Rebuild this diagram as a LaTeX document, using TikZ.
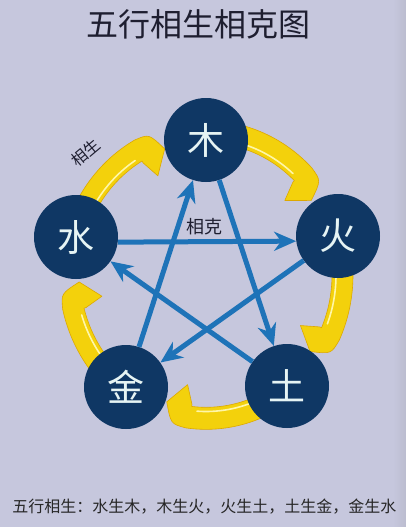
\documentclass[tikz,border=0pt]{standalone}
\usepackage{fontspec}
\newfontfamily\cjk{Noto Sans CJK SC}
\usetikzlibrary{arrows.meta}
\definecolor{bg}{HTML}{C6C7DD}
\definecolor{navy}{HTML}{0F3764}
\definecolor{kblue}{HTML}{1E73B8}
\definecolor{yfillc}{HTML}{F3D10C}
\definecolor{yedge}{HTML}{DDA800}
\definecolor{yhigh}{HTML}{FFF6A8}
\definecolor{titlec}{HTML}{1E1E30}
\definecolor{elemtext}{HTML}{E6F4F4}
\tikzset{
  elem/.style={circle, fill=navy, minimum size=84pt, inner sep=0pt, text=elemtext,
               font=\cjk\fontsize{37}{37}\selectfont},
  ke/.style={draw=kblue, line width=5pt, -{Stealth[length=22pt,width=19pt,inset=7pt]}},
  yfill/.style={fill=yfillc, draw=yedge, line width=0.6pt, line join=round},
  yhl/.style={draw=yhigh, line width=1.6pt, line cap=round}
}
\newcommand\yarr[2]{%
  \pgfmathsetmacro\ea{#2+10}\pgfmathsetmacro\ca{#2+4}%
  \pgfmathsetmacro\ba{#2+8}\pgfmathsetmacro\na{#2+11.5}\pgfmathsetmacro\ha{#2+14}%
  \path[yfill] plot[domain=#1:\ea,samples=40] (\x:147) .. controls (\ca:146) .. (#2:127)
     -- (\ba:106) -- (\na:124) -- plot[domain=\na:#1,samples=40] (\x:126) -- cycle;
  \draw[yhl] plot[domain=#1:\ha,samples=40] (\x:130);
}
\begin{document}
\begin{tikzpicture}[x=1pt,y=-1pt]
\useasboundingbox (0,0) rectangle (406,527);
\fill[bg] (0,0) rectangle (406,527);
\shade[left color=bg, right color=bg!85!gray] (393,0) rectangle (406,527);

\node[font=\cjk\fontsize{32}{32}\selectfont, text=titlec] (title) at (198,24) {五行相生相克图};

% yellow generating arrows
\begin{scope}[shift={(206,275)}, yscale=-1.05]
  \yarr{155}{109}
  \yarr{80}{34}
  \yarr{5}{-35}
  \yarr{-65}{-108}
  \yarr{225}{183}
\end{scope}

% elements
\node[elem] (mu)   at (206,140) {木};
\node[elem] (huo)  at (338,236) {火};
\node[elem] (tu)   at (287,386) {土};
\node[elem] (jin)  at (126,387) {金};
\node[elem] (shui) at (76,237)  {水};

% controlling arrows
\draw[ke] (mu) -- (tu);
\draw[ke] (tu) -- (shui);
\draw[ke] (shui.-7) -- (huo.187);
\draw[ke] (huo) -- (jin);
\draw[ke] (jin) -- (mu);

\node[font=\cjk\fontsize{18}{18}\selectfont, text=titlec] (kelabel) at (204,227) {相克};
\node[font=\cjk\fontsize{16}{16}\selectfont, text=titlec, rotate=40] (shenglabel) at (86,153) {相生};

\node[font=\cjk\fontsize{16}{16}\selectfont, text=black!85] (caption) at (204.5,507)
  {五行相生：水生木，木生火，火生土，土生金，金生水};
\end{tikzpicture}
\end{document}
